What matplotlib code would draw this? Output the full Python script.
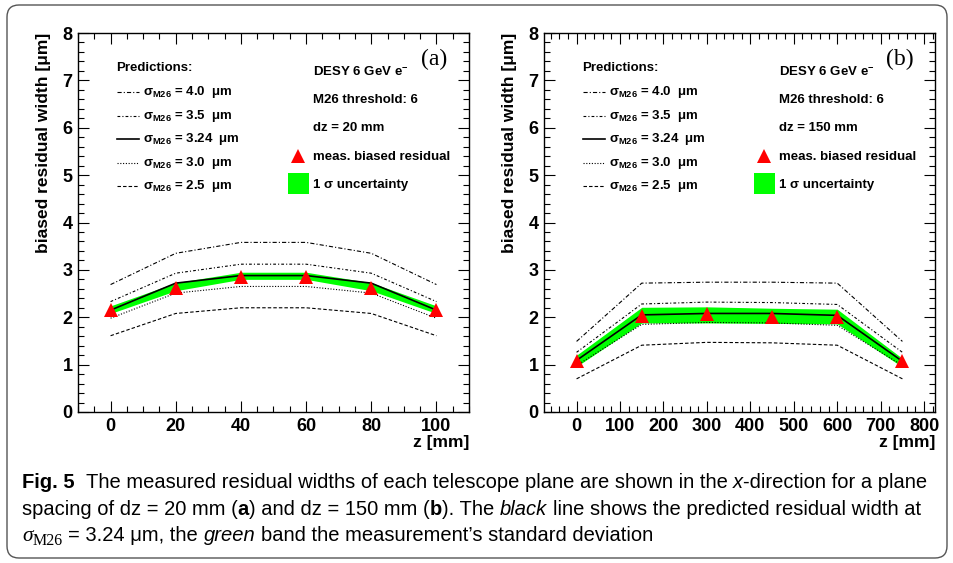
import matplotlib.pyplot as plt
from matplotlib.patches import FancyBboxPatch, Rectangle
from matplotlib.ticker import MultipleLocator
from matplotlib.transforms import IdentityTransform

# panel (a): dz = 20 mm
z_a = [0, 20, 40, 60, 80, 100]
a_s40 = [2.69, 3.35, 3.58, 3.58, 3.35, 2.69]
a_s35 = [2.33, 2.93, 3.12, 3.12, 2.93, 2.33]
a_s324 = [2.15, 2.72, 2.88, 2.88, 2.72, 2.15]
a_s30 = [1.98, 2.51, 2.65, 2.65, 2.51, 1.98]
a_s25 = [1.61, 2.08, 2.20, 2.20, 2.08, 1.61]
a_meas = [2.16, 2.61, 2.86, 2.86, 2.61, 2.16]
a_lo = [2.08, 2.56, 2.80, 2.80, 2.56, 2.08]
a_hi = [2.24, 2.73, 2.95, 2.95, 2.73, 2.24]

# panel (b): dz = 150 mm
z_b = [0, 150, 300, 450, 600, 750]
b_s40 = [1.49, 2.72, 2.74, 2.74, 2.72, 1.49]
b_s35 = [1.26, 2.28, 2.32, 2.31, 2.27, 1.26]
b_s324 = [1.09, 2.05, 2.08, 2.08, 2.04, 1.07]
b_s30 = [0.98, 1.85, 1.89, 1.88, 1.83, 0.98]
b_s25 = [0.70, 1.41, 1.47, 1.46, 1.41, 0.70]
b_meas = [1.08, 2.02, 2.06, 2.01, 2.00, 1.07]
b_lo = [0.96, 1.88, 1.88, 1.87, 1.86, 0.95]
b_hi = [1.20, 2.21, 2.22, 2.19, 2.17, 1.13]

sigmas = ['4.0', '3.5', '3.24', '3.0', '2.5']
styles = [(0, (3, 1.5, 0.8, 1.5)), (0, (2, 1.5, 0.8, 1.5)), '-',
          (0, (0.8, 1.2)), (0, (2.5, 1.5))]
widths = [0.8, 0.8, 1.2, 0.8, 0.8]

plt.rcParams['font.family'] = ['Liberation Sans', 'DejaVu Sans']
plt.rcParams['font.weight'] = 'bold'
plt.rcParams['axes.labelweight'] = 'bold'
plt.rcParams['lines.scale_dashes'] = False
plt.rcParams['mathtext.fontset'] = 'custom'
plt.rcParams['mathtext.rm'] = 'Liberation Sans:bold'
plt.rcParams['mathtext.it'] = 'Liberation Sans:bold'
plt.rcParams['mathtext.bf'] = 'Liberation Sans:bold'

W, H = 954, 563
fig = plt.figure(figsize=(W / 100, H / 100), dpi=100)

# rounded outer frame
fig.patches.append(FancyBboxPatch((7, 5), 940, 553, boxstyle='round,pad=0,rounding_size=12',
                                  transform=IdentityTransform(), fill=False,
                                  edgecolor='#555555', lw=1.0))


def panel(left, z, curves, meas, lo, hi, xlim, xmaj, xmin, dz, tag):
    ax = fig.add_axes([left / W, 1 - 412 / H, 391 / W, 379 / H])
    ax.fill_between(z, lo, hi, color='#00ff00', lw=0, zorder=2)
    for ys, ls, lw in zip(curves, styles, widths):
        ax.plot(z, ys, color='black', linestyle=ls, lw=lw, zorder=3)
    ax.plot(z, meas, '^', color='red', ms=10.5, mew=0, zorder=4)
    ax.set_xlim(*xlim)
    ax.set_ylim(0, 8)
    ax.xaxis.set_major_locator(MultipleLocator(xmaj))
    ax.xaxis.set_minor_locator(MultipleLocator(xmin))
    ax.yaxis.set_major_locator(MultipleLocator(1))
    ax.yaxis.set_minor_locator(MultipleLocator(0.2))
    ax.tick_params(which='both', direction='in', top=True, right=True, labelsize=13, width=0.8)
    ax.tick_params(which='major', length=8, pad=4)
    ax.tick_params(which='minor', length=4)
    for s in ax.spines.values():
        s.set_linewidth(1.0)
    ax.set_xlabel('z [mm]', fontsize=12.5, loc='right')
    ax.xaxis.set_label_coords(1.0, -0.062)
    ax.set_ylabel('biased residual width [μm]', fontsize=12.5, loc='top')
    ax.yaxis.set_label_coords(-0.068, 1.0)

    # hand-made legend, ROOT style
    tr = ax.transAxes
    ax.text(0.097, 0.908, 'Predictions:', transform=tr, fontsize=9.5, va='center')
    ys_leg = [0.844, 0.781, 0.720, 0.657, 0.596]
    for yl, sg, ls, lw in zip(ys_leg, sigmas, styles, widths):
        ax.plot([0.100, 0.155], [yl, yl], transform=tr, color='black', linestyle=ls, lw=lw)
        ax.text(0.165, yl, r'$\mathrm{\sigma_{M26}}$ = ' + sg + '  μm', transform=tr,
                fontsize=9.5, va='center')
    ax.text(0.601, 0.897, r'DESY 6 GeV e$^{-}$', transform=tr, fontsize=9.5, va='center')
    ax.text(0.601, 0.823, 'M26 threshold: 6', transform=tr, fontsize=9.5, va='center')
    ax.text(0.601, 0.749, dz, transform=tr, fontsize=9.5, va='center')
    ax.plot([0.563], [0.676], '^', transform=tr, color='red', ms=10, mew=0)
    ax.text(0.601, 0.673, 'meas. biased residual', transform=tr, fontsize=9.5, va='center')
    ax.add_patch(Rectangle((0.536, 0.575), 0.056, 0.056, transform=tr, color='#00ff00', lw=0))
    ax.text(0.601, 0.600, '1 σ uncertainty', transform=tr, fontsize=9.5, va='center')
    ax.text(0.911, 0.929, tag, transform=tr, fontsize=17, va='center', ha='center',
            family=['Liberation Serif', 'DejaVu Serif'], fontweight='normal')
    return ax


panel(78, z_a, [a_s40, a_s35, a_s324, a_s30, a_s25], a_meas, a_lo, a_hi,
      (-10, 110), 20, 5, 'dz = 20 mm', '(a)')
panel(544, z_b, [b_s40, b_s35, b_s324, b_s30, b_s25], b_meas, b_lo, b_hi,
      (-75, 825), 100, 20, 'dz = 150 mm', '(b)')

# caption, drawn as runs of text in pixel coordinates
renderer = fig.canvas.get_renderer()
cap = ['Liberation Sans Narrow', 'Liberation Sans', 'DejaVu Sans']
serif = ['Liberation Serif', 'DejaVu Serif']
FS = 14.5


def width(s, **kw):
    t = fig.text(0, 0, s, transform=IdentityTransform(), **kw)
    w = t.get_window_extent(renderer).width
    t.remove()
    return w


def advance(s, **kw):
    return width('|' + s + '|', **kw) - width('||', **kw)


def put_line(x, y, runs):
    for s, kw in runs:
        opts = dict(family=cap, fontsize=FS, fontweight='normal')
        opts.update(kw)
        dy = opts.pop('dy', 0)
        body = s.lstrip()
        lead = advance(s[:len(s) - len(body)], **opts) if body != s else 0
        fig.text(x + lead, H - y - dy, body.rstrip(), transform=IdentityTransform(),
                 va='baseline', ha='left', **opts)
        x += advance(s, **opts)


put_line(22, 488, [('Fig. 5', dict(fontweight='bold')),
                   ('  The measured residual widths of each telescope plane are shown in the ', {}),
                   ('x', dict(style='italic')),
                   ('-direction for a plane', {})])
put_line(22, 515, [('spacing of dz = 20 mm (', {}), ('a', dict(fontweight='bold')),
                   (') and dz = 150 mm (', {}), ('b', dict(fontweight='bold')),
                   ('). The ', {}), ('black', dict(style='italic')),
                   (' line shows the predicted residual width at', {})])
put_line(22, 541, [('σ', dict(family=serif, style='italic', fontsize=FS + 1)),
                   ('M26', dict(family=serif, fontsize=FS - 3, dy=4)),
                   (' = 3.24 μm, the ', {}), ('green', dict(style='italic')),
                   (' band the measurement’s standard deviation', {})])

fig.savefig('out.png', dpi=100, facecolor='white')
